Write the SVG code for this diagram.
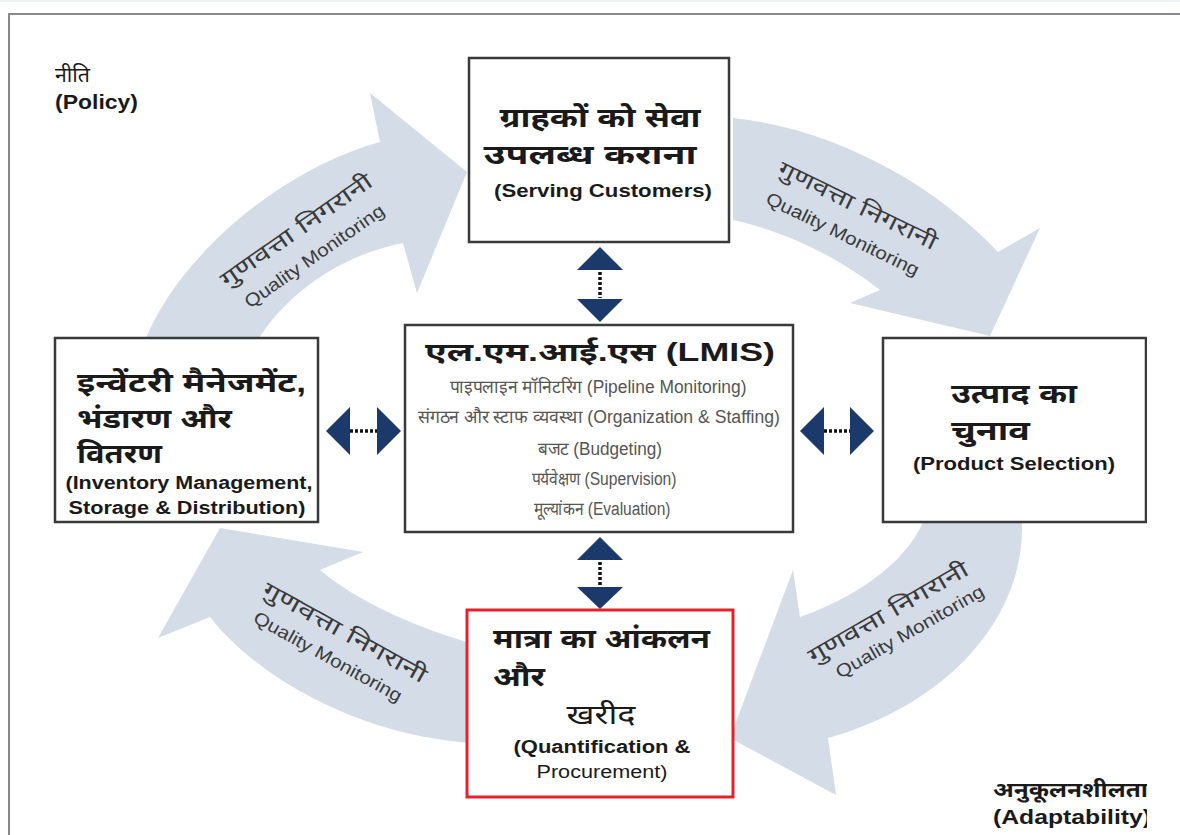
<svg xmlns="http://www.w3.org/2000/svg" width="1180" height="835" viewBox="0 0 1180 835">
  <style>
    .box { fill: #ffffff; stroke: #3a3a3a; stroke-width: 2.5; }
    .hi { font-family: "Liberation Sans", "Noto Sans", sans-serif; fill: #1a1a1a; font-weight: bold; }
    .hr { font-family: "Liberation Sans", "Noto Sans", sans-serif; fill: #1a1a1a; font-weight: normal; }
    .en { font-family: "Liberation Sans", Arial, sans-serif; fill: #1a1a1a; font-weight: bold; }
    .er { font-family: "Liberation Sans", Arial, sans-serif; fill: #1a1a1a; font-weight: normal; }
    .lst { font-family: "Liberation Sans Narrow", "Liberation Sans", sans-serif; fill: #555555; font-size: 18px; }
    .flow { fill: #d4dce7; }
    .qhi { font-family: "Liberation Sans", "Noto Sans", sans-serif; fill: #3a3a3a; font-size: 22px; }
    .qen { font-family: "Liberation Sans", Arial, sans-serif; fill: #3a3a3a; font-size: 18px; }
    .head { fill: #1b3a6b; }
    .dots { stroke: #111111; stroke-width: 3.5; stroke-dasharray: 3 2; fill: none; }
  </style>

  <!-- page frame -->
  <rect x="0" y="0" width="1180" height="2" fill="#eef1f5"/>
  <path d="M9,835 V14 H1180" fill="none" stroke="#8a8a8a" stroke-width="2"/>

  <!-- corner labels -->
  <g id="policy">
    <text class="hr" x="55" y="82" font-size="20" textLength="35" lengthAdjust="spacingAndGlyphs">नीति</text>
    <text class="en" x="55" y="109" font-size="21" textLength="83" lengthAdjust="spacingAndGlyphs">(Policy)</text>
  </g>
  <g id="adaptability">
    <text class="hi" x="993" y="797" font-size="20" textLength="155" lengthAdjust="spacingAndGlyphs">अनुकूलनशीलता</text>
    <text class="en" x="993" y="824" font-size="21" textLength="158" lengthAdjust="spacingAndGlyphs">(Adaptability)</text>
  </g>

  <g id="connectors">
    <!-- quality monitoring cycle -->
    <path class="flow" d="M145,340 C180,255 280,170 380,142 L370,93 L467,172 L417,293 L403,243 C340,255 285,295 258,340 Z"/>
    <path class="flow" d="M733,118 C830,128 930,180 998,252 L1040,228 L990,336 L850,303 L880,290 C845,262 790,232 733,220 Z"/>
    <path class="flow" d="M1022,522 C1025,620 945,705 828,738 L836,795 L730,738 L793,570 L800,617 C850,600 905,565 923,522 Z"/>
    <path class="flow" d="M470,643 C410,625 355,600 320,570 L363,552 L220,528 L158,638 L210,617 C260,680 360,735 470,743 Z"/>

    <g transform="translate(296,230) rotate(-35)">
      <text class="qhi" x="0" y="8" text-anchor="middle" textLength="180" lengthAdjust="spacingAndGlyphs">गुणवत्ता निगरानी</text>
      <text class="qen" x="0" y="38" text-anchor="middle" textLength="166" lengthAdjust="spacingAndGlyphs">Quality Monitoring</text>
    </g>
    <g transform="translate(858,205) rotate(26)">
      <text class="qhi" x="0" y="8" text-anchor="middle" textLength="174" lengthAdjust="spacingAndGlyphs">गुणवत्ता निगरानी</text>
      <text class="qen" x="-1" y="39" text-anchor="middle" textLength="168" lengthAdjust="spacingAndGlyphs">Quality Monitoring</text>
    </g>
    <g transform="translate(345,632) rotate(29)">
      <text class="qhi" x="0" y="8" text-anchor="middle" textLength="184" lengthAdjust="spacingAndGlyphs">गुणवत्ता निगरानी</text>
      <text class="qen" x="-3" y="36" text-anchor="middle" textLength="167" lengthAdjust="spacingAndGlyphs">Quality Monitoring</text>
    </g>
    <g transform="translate(888,612) rotate(-30)">
      <text class="qhi" x="0" y="8" text-anchor="middle" textLength="181" lengthAdjust="spacingAndGlyphs">गुणवत्ता निगरानी</text>
      <text class="qen" x="9" y="34" text-anchor="middle" textLength="168" lengthAdjust="spacingAndGlyphs">Quality Monitoring</text>
    </g>

    <!-- LMIS links -->
    <g id="link-top">
      <polygon class="head" points="600,247 623,270 577,270"/>
      <line class="dots" x1="600" y1="272" x2="600" y2="298"/>
      <polygon class="head" points="577,299 623,299 600,322"/>
    </g>
    <g id="link-bottom">
      <polygon class="head" points="600,537 623,560 577,560"/>
      <line class="dots" x1="600" y1="562" x2="600" y2="586"/>
      <polygon class="head" points="577,587 623,587 600,609"/>
    </g>
    <g id="link-left">
      <polygon class="head" points="326,431 350,407 350,455"/>
      <line class="dots" x1="350" y1="431" x2="377" y2="431"/>
      <polygon class="head" points="377,407 401,431 377,455"/>
    </g>
    <g id="link-right">
      <polygon class="head" points="800,431 824,407 824,455"/>
      <line class="dots" x1="824" y1="431" x2="850" y2="431"/>
      <polygon class="head" points="850,407 874,431 850,455"/>
    </g>
  </g>

  <g id="serving-customers">
    <rect class="box" x="469" y="58" width="260" height="184"/>
    <text class="hi" x="600" y="127" font-size="27" text-anchor="middle" textLength="201" lengthAdjust="spacingAndGlyphs">ग्राहकों को सेवा</text>
    <text class="hi" x="590" y="164" font-size="27" text-anchor="middle" textLength="213" lengthAdjust="spacingAndGlyphs">उपलब्ध कराना</text>
    <text class="en" x="603" y="197" font-size="19" text-anchor="middle" textLength="218" lengthAdjust="spacingAndGlyphs">(Serving Customers)</text>
  </g>

  <g id="lmis">
    <rect class="box" x="405" y="325" width="388" height="207"/>
    <text class="hi" x="600" y="361" font-size="26" text-anchor="middle" textLength="350" lengthAdjust="spacingAndGlyphs">एल.एम.आई.एस (LMIS)</text>
    <text class="lst" x="598" y="393" text-anchor="middle" textLength="297" lengthAdjust="spacingAndGlyphs">पाइपलाइन मॉनिटरिंग (Pipeline Monitoring)</text>
    <text class="lst" x="599" y="423" text-anchor="middle" textLength="362" lengthAdjust="spacingAndGlyphs">संगठन और स्टाफ व्यवस्था (Organization &amp; Staffing)</text>
    <text class="lst" x="600" y="455" text-anchor="middle" textLength="124" lengthAdjust="spacingAndGlyphs">बजट (Budgeting)</text>
    <text class="lst" x="604" y="485" text-anchor="middle" textLength="145" lengthAdjust="spacingAndGlyphs">पर्यवेक्षण (Supervision)</text>
    <text class="lst" x="602" y="515" text-anchor="middle" textLength="137" lengthAdjust="spacingAndGlyphs">मूल्यांकन (Evaluation)</text>
  </g>

  <g id="inventory">
    <rect class="box" x="55" y="338" width="263" height="184"/>
    <text class="hi" x="77" y="392" font-size="27" textLength="229" lengthAdjust="spacingAndGlyphs">इन्वेंटरी मैनेजमेंट,</text>
    <text class="hi" x="77" y="428" font-size="27" textLength="155" lengthAdjust="spacingAndGlyphs">भंडारण और</text>
    <text class="hi" x="77" y="463" font-size="27" textLength="85" lengthAdjust="spacingAndGlyphs">वितरण</text>
    <text class="en" x="189" y="489" font-size="18" text-anchor="middle" textLength="247" lengthAdjust="spacingAndGlyphs">(Inventory Management,</text>
    <text class="en" x="187" y="514" font-size="18" text-anchor="middle" textLength="237" lengthAdjust="spacingAndGlyphs">Storage &amp; Distribution)</text>
  </g>

  <g id="product-selection">
    <path class="box" d="M1146,338 H883 V522 H1146 Z"/>
    <text class="hi" x="951" y="403" font-size="27" textLength="126" lengthAdjust="spacingAndGlyphs">उत्पाद का</text>
    <text class="hi" x="951" y="440" font-size="27" textLength="79" lengthAdjust="spacingAndGlyphs">चुनाव</text>
    <text class="en" x="1014" y="470" font-size="18" text-anchor="middle" textLength="202" lengthAdjust="spacingAndGlyphs">(Product Selection)</text>
  </g>

  <g id="quantification">
    <rect x="467" y="610" width="266" height="187" fill="#ffffff" stroke="#e3222b" stroke-width="3"/>
    <text class="hi" x="493" y="648" font-size="27" textLength="217" lengthAdjust="spacingAndGlyphs">मात्रा का आंकलन</text>
    <text class="hi" x="493" y="686" font-size="27" textLength="52" lengthAdjust="spacingAndGlyphs">और</text>
    <text class="hr" x="601" y="724" font-size="27" text-anchor="middle" textLength="69" lengthAdjust="spacingAndGlyphs">खरीद</text>
    <text class="en" x="602" y="753" font-size="18" text-anchor="middle" textLength="177" lengthAdjust="spacingAndGlyphs">(Quantification &amp;</text>
    <text class="er" x="602" y="778" font-size="18" text-anchor="middle" textLength="131" lengthAdjust="spacingAndGlyphs">Procurement)</text>
  </g>

  <!-- right margin of the sheet -->
  <rect x="1147" y="16" width="33" height="819" fill="#ffffff"/>
</svg>
